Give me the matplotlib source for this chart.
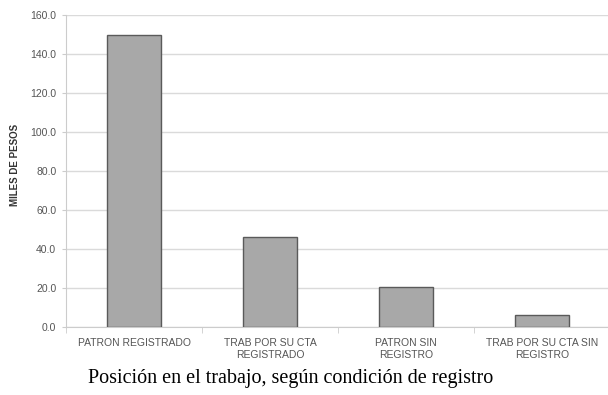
import matplotlib.pyplot as plt
import numpy as np

categories = ["PATRON REGISTRADO", "TRAB POR SU CTA\nREGISTRADO",
              "PATRON SIN\nREGISTRO", "TRAB POR SU CTA SIN\nREGISTRO"]
values = [150.0, 46.0, 20.5, 6.0]
yticks = [0, 20, 40, 60, 80, 100, 120, 140, 160]

fig = plt.figure(figsize=(6.08, 3.95), dpi=100)
ax = fig.add_axes([66 / 608, 68 / 395, 544 / 608, 312 / 395])

x = np.arange(len(categories))
ax.bar(x, values, width=0.4, color="#a8a8a8", edgecolor="#5a5a5a", linewidth=1.0, zorder=3)

ax.set_xlim(-0.5, len(categories) - 0.5)
ax.set_ylim(0, 160)
ax.set_yticks(yticks)
ax.set_yticklabels([f"{v:.1f}" for v in yticks], fontsize=7.5, color="#555555",
                   family="Liberation Sans")
ax.set_xticks(x)
ax.set_xticklabels(categories, fontsize=7.5, color="#555555", family="Liberation Sans",
                   linespacing=1.25)
ax.set_xticks(np.arange(len(categories) + 1) - 0.5, minor=True)
ax.tick_params(axis="x", which="major", length=0, pad=8)
ax.tick_params(axis="x", which="minor", length=4, color="#cccccc")
ax.tick_params(axis="y", length=3, color="#cccccc", pad=4)

ax.grid(axis="y", color="#dadada", linewidth=1.0, zorder=0)
for side in ["top", "right"]:
    ax.spines[side].set_visible(False)
ax.spines["left"].set_color("#cccccc")
ax.spines["bottom"].set_color("#cccccc")

ax.set_ylabel("MILES DE PESOS", fontsize=7, fontweight="bold", color="#333333",
              family="Liberation Sans")
ax.yaxis.set_label_coords(-46 / 544, 0.52)
ax.set_xlabel("Posición en el trabajo, según condición de registro", fontsize=14.5,
              family="Liberation Serif", color="black")
ax.xaxis.set_label_coords((291 - 66) / 544, -42 / 312)

fig.savefig("out.png", dpi=100)
